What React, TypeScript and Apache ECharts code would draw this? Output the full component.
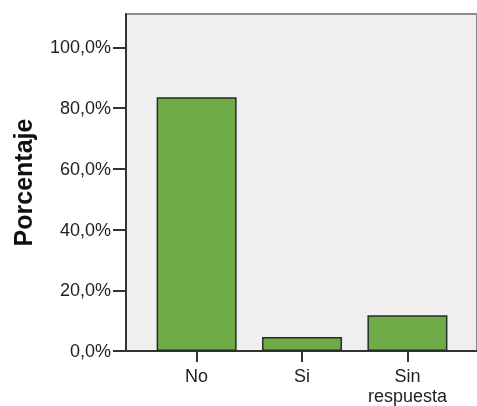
import { useEffect, useRef } from 'react';
import * as echarts from 'echarts';

const categories = ['No', 'Si', 'Sin\nrespuesta'];
const values = [83.6, 4.6, 11.8];
const yTicks = [0, 20, 40, 60, 80, 100];
const catPositions = [0, 1, 2];

export default function App() {
  const ref = useRef<HTMLDivElement>(null);
  useEffect(() => {
    const chart = echarts.init(ref.current!, null, { renderer: 'svg' });
    const font = 'Liberation Sans, Arial, sans-serif';
    chart.setOption({
      animation: false,
      grid: {
        left: 126, right: 0, top: 14, bottom: 52,
        show: true, backgroundColor: '#efefef', borderColor: '#8c8c8c', borderWidth: 2,
      },
      xAxis: {
        type: 'value', min: -0.67, max: 2.66,
        axisLine: { show: true, onZero: false, lineStyle: { color: '#333', width: 2 } },
        axisTick: { show: true, customValues: catPositions, length: 11, lineStyle: { color: '#333', width: 2 } },
        axisLabel: {
          customValues: catPositions,
          formatter: (v: number) => categories[Math.round(v)],
          margin: 15, fontSize: 18, color: '#222', fontFamily: font, lineHeight: 20,
        },
        splitLine: { show: false },
      },
      yAxis: {
        type: 'value', min: 0, max: 111,
        name: 'Porcentaje', nameLocation: 'middle', nameGap: 91,
        nameTextStyle: { fontSize: 25, fontWeight: 'bold', color: '#111', fontFamily: font },
        axisLine: { show: true, onZero: false, lineStyle: { color: '#333', width: 2 } },
        axisTick: { show: true, customValues: yTicks, length: 13, lineStyle: { color: '#333', width: 2 } },
        axisLabel: {
          customValues: yTicks,
          formatter: (v: number) => v.toFixed(1).replace('.', ',') + '%',
          margin: 15, fontSize: 18, color: '#222', fontFamily: font,
        },
        splitLine: { show: false },
      },
      series: [{
        type: 'bar',
        data: values.map((v, i) => [catPositions[i], v]),
        barWidth: 80,
        itemStyle: { color: '#6fab46', borderColor: '#2a2a2a', borderWidth: 1.5 },
      }],
    });
    return () => chart.dispose();
  }, []);
  return <div ref={ref} style={{ position: 'fixed', left: 0, top: 0, width: 477, height: 406 }} />;
}
